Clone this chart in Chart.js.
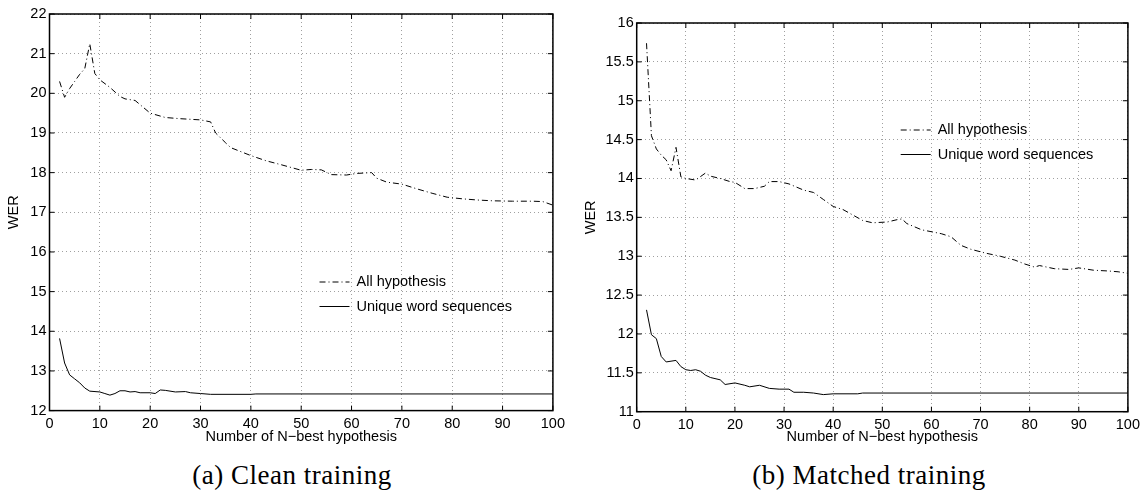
<!DOCTYPE html>
<html>
<head>
<meta charset="utf-8">
<script src="https://cdn.jsdelivr.net/npm/chart.js@4.4.0/dist/chart.umd.min.js"></script>
<style>
  body { margin: 0; background: #fff; width: 1145px; height: 490px; position: relative; overflow: hidden; }
  canvas { position: absolute; top: 0; }
  .caption { position: absolute; top: 461px; width: 300px; text-align: center; font-family: "Liberation Serif", serif; font-size: 27px; line-height: 28px; letter-spacing: 0.5px; color: #000; white-space: nowrap; }
</style>
</head>
<body>
<canvas id="chartClean" width="570" height="446" style="left:0"></canvas>
<canvas id="chartMatched" width="568" height="446" style="left:577px"></canvas>
<div class="caption" style="left:142px">(a) Clean training</div>
<div class="caption" style="left:719px">(b) Matched training</div>
<script>
// tick labels
const xTicks = [0, 10, 20, 30, 40, 50, 60, 70, 80, 90, 100];
const yTicksClean = [12, 13, 14, 15, 16, 17, 18, 19, 20, 21, 22];
const yTicksMatched = [11, 11.5, 12, 12.5, 13, 13.5, 14, 14.5, 15, 15.5, 16];

const seriesLabels = ["All hypothesis", "Unique word sequences"];
const xLabel = "Number of N\u2212best hypothesis";
const yLabel = "WER";

// (a) clean training
const cleanAllN   = [2, 3, 4, 5, 6, 7, 8, 9, 10, 12, 14, 15, 17, 20, 23, 26, 30, 32, 33, 35, 36, 40, 43, 46, 50, 52, 54, 56, 59, 61, 64, 65, 67, 70, 73, 76, 79, 82, 85, 88, 92, 96, 98, 100];
const cleanAllWer = [20.30, 19.90, 20.12, 20.30, 20.48, 20.62, 21.25, 20.50, 20.34, 20.15, 19.92, 19.86, 19.82, 19.50, 19.39, 19.36, 19.33, 19.28, 19.00, 18.75, 18.63, 18.43, 18.30, 18.20, 18.06, 18.08, 18.07, 17.95, 17.94, 17.98, 18.00, 17.86, 17.76, 17.71, 17.59, 17.48, 17.38, 17.34, 17.31, 17.29, 17.28, 17.28, 17.27, 17.18];
const cleanUniqN   = [2, 3, 4, 5, 6, 7, 8, 10, 11, 12, 13, 14, 15, 16, 17, 18, 20, 21, 22, 23, 25, 27, 28, 30, 32, 40, 41, 100];
const cleanUniqWer = [13.82, 13.20, 12.90, 12.80, 12.70, 12.57, 12.49, 12.47, 12.43, 12.39, 12.43, 12.50, 12.50, 12.47, 12.48, 12.45, 12.45, 12.43, 12.52, 12.51, 12.47, 12.48, 12.45, 12.43, 12.41, 12.41, 12.42, 12.42];

// (b) matched training
const matchAllN   = [2, 3, 4, 5, 6, 7, 8, 9, 10, 12, 14, 15, 17, 19, 20, 22, 24, 26, 27, 29, 31, 34, 36, 38, 40, 42, 44, 46, 48, 51, 53, 54, 55, 58, 62, 64, 66, 68, 71, 74, 77, 79, 81, 82, 85, 88, 90, 93, 96, 98, 100];
const matchAllWer = [15.74, 14.55, 14.38, 14.30, 14.24, 14.10, 14.40, 14.02, 14.00, 13.98, 14.07, 14.03, 14.00, 13.96, 13.95, 13.87, 13.87, 13.90, 13.96, 13.96, 13.93, 13.85, 13.82, 13.73, 13.64, 13.60, 13.53, 13.46, 13.43, 13.44, 13.47, 13.48, 13.42, 13.34, 13.29, 13.25, 13.14, 13.09, 13.04, 13.00, 12.95, 12.90, 12.86, 12.88, 12.84, 12.83, 12.85, 12.82, 12.81, 12.80, 12.78];
const matchUniqN   = [2, 3, 4, 5, 6, 8, 9, 10, 11, 12, 13, 14, 15, 17, 18, 20, 22, 23, 25, 27, 29, 31, 32, 34, 36, 38, 40, 45, 46, 100];
const matchUniqWer = [12.31, 11.99, 11.94, 11.71, 11.64, 11.66, 11.58, 11.54, 11.53, 11.54, 11.52, 11.47, 11.44, 11.41, 11.35, 11.37, 11.34, 11.32, 11.34, 11.30, 11.29, 11.29, 11.25, 11.25, 11.24, 11.22, 11.23, 11.23, 11.24, 11.24];

Chart.defaults.font.family = "'Liberation Sans', Arial, sans-serif";
Chart.defaults.font.size = 14.5;
Chart.defaults.color = '#000';

function points(ns, ws) {
  return ns.map((n, i) => ({ x: n, y: ws[i] }));
}

// box, inward ticks and legend inside the axes (matlab style)
const framePlugin = {
  id: 'frame',
  afterDraw(chart, args, opts) {
    const { ctx, chartArea: a, scales: { x, y } } = chart;
    ctx.save();
    ctx.strokeStyle = '#000';
    ctx.lineWidth = 1;
    ctx.setLineDash([]);
    ctx.beginPath();
    x.ticks.forEach(t => {
      const px = x.getPixelForValue(t.value);
      ctx.moveTo(px, a.bottom); ctx.lineTo(px, a.bottom - 5);
      ctx.moveTo(px, a.top); ctx.lineTo(px, a.top + 5);
    });
    y.ticks.forEach(t => {
      const py = y.getPixelForValue(t.value);
      ctx.moveTo(a.left, py); ctx.lineTo(a.left + 5, py);
      ctx.moveTo(a.right, py); ctx.lineTo(a.right - 5, py);
    });
    ctx.stroke();
    ctx.lineWidth = 1.5;
    ctx.strokeRect(a.left, a.top, a.right - a.left, a.bottom - a.top);

    // legend
    ctx.font = "14.5px 'Liberation Sans', Arial, sans-serif";
    ctx.fillStyle = '#000';
    ctx.textBaseline = 'middle';
    chart.data.datasets.forEach((ds, i) => {
      const ly = a.top + opts.y + i * opts.rowH;
      const lx = a.left + opts.x;
      ctx.lineWidth = 1;
      ctx.setLineDash(ds.borderDash || []);
      ctx.beginPath();
      ctx.moveTo(lx, ly);
      ctx.lineTo(lx + opts.lineLen, ly);
      ctx.stroke();
      ctx.setLineDash([]);
      ctx.fillText(ds.label, lx + opts.lineLen + opts.gap, ly);
    });
    ctx.restore();
  }
};

function makeChart(id, allPts, uniqPts, yTicks, pad, yWidth, xHeight, legend) {
  return new Chart(document.getElementById(id), {
    type: 'line',
    data: {
      datasets: [
        { label: seriesLabels[0], data: allPts, borderColor: '#000', borderWidth: 1, borderDash: [6, 3, 1, 3], pointRadius: 0, tension: 0 },
        { label: seriesLabels[1], data: uniqPts, borderColor: '#000', borderWidth: 1, pointRadius: 0, tension: 0 }
      ]
    },
    options: {
      responsive: false,
      animation: false,
      devicePixelRatio: 1,
      layout: { padding: pad },
      plugins: { legend: { display: false }, tooltip: { enabled: false }, frame: legend },
      scales: {
        x: {
          type: 'linear',
          min: xTicks[0],
          max: xTicks[xTicks.length - 1],
          afterBuildTicks: s => { s.ticks = xTicks.map(v => ({ value: v })); },
          afterFit: s => { s.height = xHeight; },
          ticks: { padding: 5, maxRotation: 0, autoSkip: false, callback: v => String(v) },
          grid: { color: '#a0a0a0', lineWidth: 1, drawTicks: false },
          border: { display: false, dash: [1, 3] },
          title: { display: true, text: xLabel, font: { size: 14.5 }, padding: { top: 0, bottom: 0 } }
        },
        y: {
          type: 'linear',
          min: yTicks[0],
          max: yTicks[yTicks.length - 1],
          afterBuildTicks: s => { s.ticks = yTicks.map(v => ({ value: v })); },
          afterFit: s => { s.width = yWidth; },
          ticks: { padding: 3, autoSkip: false, callback: v => String(v) },
          grid: { color: '#a0a0a0', lineWidth: 1, drawTicks: false },
          border: { display: false, dash: [1, 3] },
          title: { display: true, text: yLabel, font: { size: 14.5 }, padding: { top: 5, bottom: 0 } }
        }
      }
    },
    plugins: [framePlugin]
  });
}

makeChart('chartClean', points(cleanAllN, cleanAllWer), points(cleanUniqN, cleanUniqWer), yTicksClean,
  { top: 14, right: 16, bottom: 0, left: 0 }, 49.5, 35.4,
  { x: 270, y: 268, rowH: 24.5, lineLen: 30, gap: 7 });

makeChart('chartMatched', points(matchAllN, matchAllWer), points(matchUniqN, matchUniqWer), yTicksMatched,
  { top: 23, right: 15, bottom: 0, left: 0 }, 59.7, 34.3,
  { x: 264, y: 107, rowH: 24.5, lineLen: 30, gap: 7 });
</script>
</body>
</html>
